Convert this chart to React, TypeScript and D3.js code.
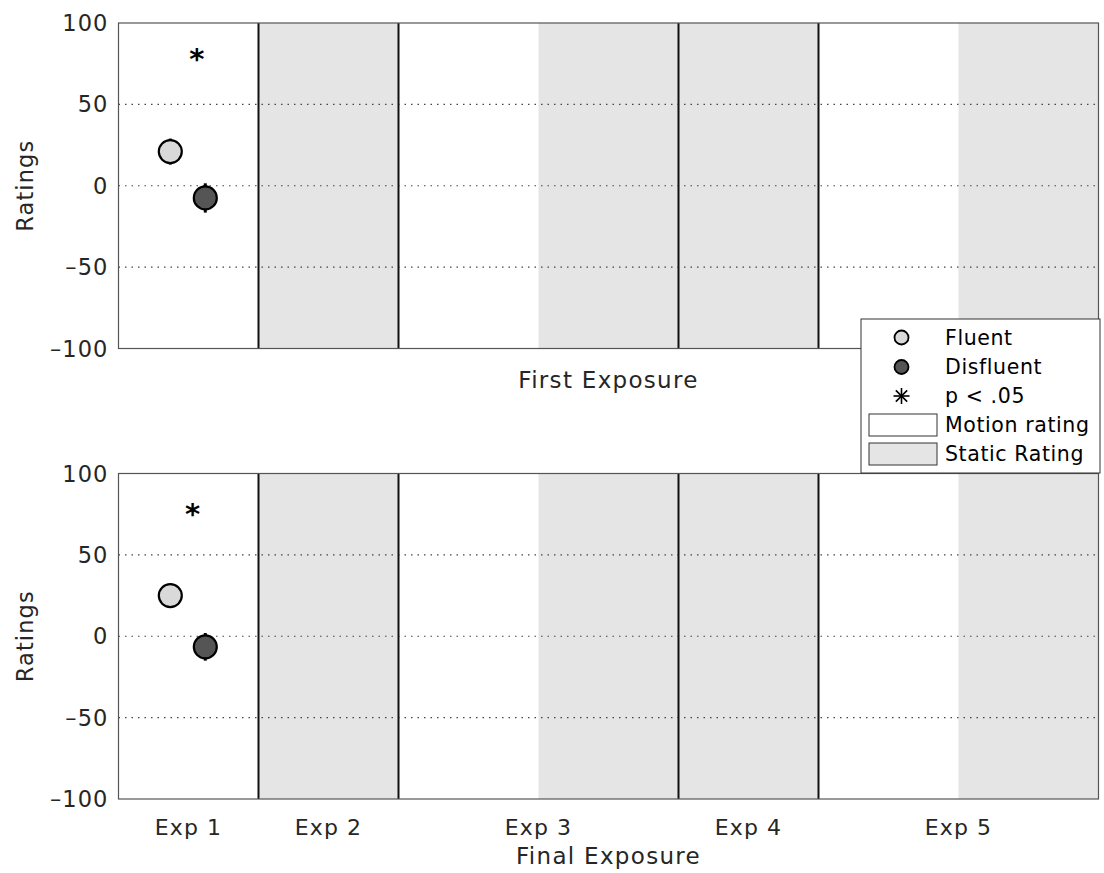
import React from "react";
import * as d3 from "d3";

const W = 1104;
const H = 873;

// Panel titles (x-axis labels)
const panelTitles = ["First Exposure", "Final Exposure"];

// Condition means and error-bar half widths per panel (Exp 1 only)
const fluentMean = [21, 25];
const fluentErr = [8, 4];
const disfluentMean = [-7.5, -6.5];
const disfluentErr = [9, 8.5];
const starValue = [82, 79];

// x positions (in segment units) of the markers
const fluentX = [0.37, 0.37];
const disfluentX = [0.62, 0.62];
const starX = [0.56, 0.53];

// Rating-type segments across the x axis
const segStart = [0, 1, 2, 3, 4, 5, 6];
const segEnd = [1, 2, 3, 4, 5, 6, 7];
const segType = ["motion", "static", "motion", "static", "static", "motion", "static"];

// Boundaries between experiments
const dividers = [1, 2, 4, 5];

// Experiment tick labels
const expLabels = ["Exp 1", "Exp 2", "Exp 3", "Exp 4", "Exp 5"];
const expTickPos = [0.5, 1.5, 3, 4.5, 6];

const yTicks = [100, 50, 0, -50, -100];
const gridValues = [50, 0, -50];

const FONT = "DejaVu Sans, sans-serif";
const STATIC_FILL = "#e5e5e5";
const FLUENT_FILL = "#d9d9d9";
const DISFLUENT_FILL = "#555555";
const LS = 1.1;

const x = d3.scaleLinear().domain([0, 7]).range([118.5, 1098.5]);
const panelTops = [23, 473.5];
const panelHeight = 325.5;

function Star({ cx, cy, r }: { cx: number; cy: number; r: number }) {
  const lines = [0, 45, 90, 135].map((a) => {
    const rad = (a * Math.PI) / 180;
    const dx = Math.sin(rad) * r;
    const dy = Math.cos(rad) * r;
    return <line key={a} x1={cx - dx} y1={cy - dy} x2={cx + dx} y2={cy + dy} stroke="#000" strokeWidth={1.6} />;
  });
  return <g>{lines}</g>;
}

function Panel({ i }: { i: number }) {
  const top = panelTops[i];
  const y = d3.scaleLinear().domain([-100, 100]).range([top + panelHeight, top]);
  const x0 = x(0);
  const x1 = x(7);
  const markerR = 11.5;
  return (
    <g>
      {segStart.map((s, k) => (
        <rect
          key={k}
          x={x(s)}
          y={y(100)}
          width={x(segEnd[k]) - x(s)}
          height={y(-100) - y(100)}
          fill={segType[k] === "static" ? STATIC_FILL : "#fff"}
        />
      ))}
      {gridValues.map((g) => (
        <line key={g} x1={x0} x2={x1} y1={y(g)} y2={y(g)} stroke="#444" strokeWidth={1.2} strokeDasharray="1.5,5" />
      ))}
      {dividers.map((d) => (
        <line key={d} x1={x(d)} x2={x(d)} y1={y(100)} y2={y(-100)} stroke="#111" strokeWidth={2} />
      ))}
      <rect x={x0} y={y(100)} width={x1 - x0} height={y(-100) - y(100)} fill="none" stroke="#555" strokeWidth={1.2} />
      {yTicks.map((t) => (
        <text key={t} x={x0 - 10} y={y(t)} dy="0.36em" textAnchor="end" fontFamily={FONT} fontSize={22.5} letterSpacing={LS} fill="#262626">
          {t < 0 ? "\u2013" + Math.abs(t) : t}
        </text>
      ))}
      <text
        transform={`translate(33,${y(0)}) rotate(-90)`}
        textAnchor="middle"
        fontFamily={FONT}
        fontSize={22.5}
        letterSpacing={LS}
        fill="#262626"
      >
        Ratings
      </text>
      {/* Fluent */}
      <line x1={x(fluentX[i])} x2={x(fluentX[i])} y1={y(fluentMean[i] + fluentErr[i])} y2={y(fluentMean[i] - fluentErr[i])} stroke="#000" strokeWidth={3} />
      <circle cx={x(fluentX[i])} cy={y(fluentMean[i])} r={markerR} fill={FLUENT_FILL} stroke="#000" strokeWidth={2.2} />
      {/* Disfluent */}
      <line x1={x(disfluentX[i])} x2={x(disfluentX[i])} y1={y(disfluentMean[i] + disfluentErr[i])} y2={y(disfluentMean[i] - disfluentErr[i])} stroke="#000" strokeWidth={3} />
      <circle cx={x(disfluentX[i])} cy={y(disfluentMean[i])} r={markerR} fill={DISFLUENT_FILL} stroke="#000" strokeWidth={2.2} />
      {/* significance */}
      <text x={x(starX[i])} y={y(starValue[i])} dy="0.56em" textAnchor="middle" fontFamily={FONT} fontSize={29} fontWeight="bold" fill="#000">
        *
      </text>
      {i === 1 &&
        expLabels.map((l, k) => (
          <text key={l} x={x(expTickPos[k])} y={y(-100) + 36} textAnchor="middle" fontFamily={FONT} fontSize={22} letterSpacing={LS} fill="#262626">
            {l}
          </text>
        ))}
      <text x={(x0 + x1) / 2} y={y(-100) + (i === 1 ? 65 : 39)} textAnchor="middle" fontFamily={FONT} fontSize={23} letterSpacing={1.3} fill="#262626">
        {panelTitles[i]}
      </text>
    </g>
  );
}

const legendLabels = ["Fluent", "Disfluent", "p < .05", "Motion rating", "Static Rating"];

function Legend() {
  const lx = 861;
  const ly = 319;
  const lw = 239;
  const lh = 154;
  const rowY = [337.5, 367, 396, 425, 454];
  const textX = 945;
  const markX = 901.5;
  return (
    <g>
      <rect x={lx} y={ly} width={lw} height={lh} fill="#fff" stroke="#333" strokeWidth={1} />
      <circle cx={markX} cy={rowY[0]} r={7} fill={FLUENT_FILL} stroke="#000" strokeWidth={1.8} />
      <circle cx={markX} cy={rowY[1]} r={7} fill={DISFLUENT_FILL} stroke="#000" strokeWidth={1.8} />
      <Star cx={markX} cy={rowY[2]} r={8} />
      <rect x={869} y={rowY[3] - 11} width={68} height={22} fill="#fff" stroke="#333" strokeWidth={1} />
      <rect x={869} y={rowY[4] - 11} width={68} height={22} fill={STATIC_FILL} stroke="#333" strokeWidth={1} />
      {legendLabels.map((l, k) => (
        <text key={l} x={textX} y={rowY[k]} dy="0.36em" fontFamily={FONT} fontSize={20.5} letterSpacing={0.6} fill="#000">
          {l}
        </text>
      ))}
    </g>
  );
}

export default function App() {
  return (
    <svg width={W} height={H} style={{ position: "absolute", left: 0, top: 0, background: "#fff" }}>
      <rect width={W} height={H} fill="#fff" />
      <Panel i={0} />
      <Panel i={1} />
      <Legend />
    </svg>
  );
}
